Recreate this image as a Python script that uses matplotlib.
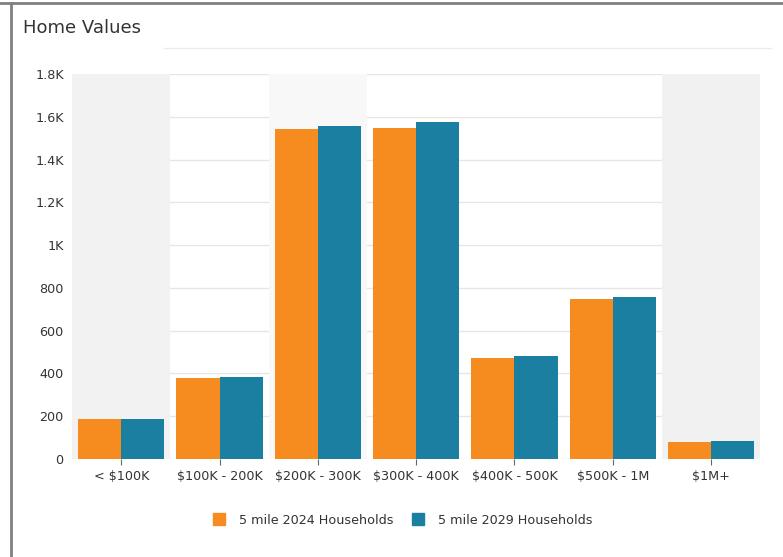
import numpy as np
import matplotlib.pyplot as plt
from matplotlib.ticker import FuncFormatter
from matplotlib.lines import Line2D

categories = ['< $100K', '$100K - 200K', '$200K - 300K', '$300K - 400K',
              '$400K - 500K', '$500K - 1M', '$1M+']
hh_2024 = [187, 381, 1543, 1549, 474, 748, 81]
hh_2029 = [188, 383, 1557, 1577, 483, 759, 82]
series_names = ['5 mile 2024 Households', '5 mile 2029 Households']
yticks = [0, 200, 400, 600, 800, 1000, 1200, 1400, 1600, 1800]

orange = '#f68c1f'
teal = '#1b7fa2'


def fmt_k(v, pos):
    if v >= 1000:
        s = '%g' % (v / 1000.0)
        return s + 'K'
    return '%d' % v


fig = plt.figure(figsize=(7.83, 5.57), dpi=100)
fig.patch.set_facecolor('white')
ax = fig.add_axes([0.092, 0.176, 0.879, 0.691])

x = np.arange(len(categories))
w = 0.44
ax.bar(x - w / 2, hh_2024, w, color=orange, zorder=3, label=series_names[0])
ax.bar(x + w / 2, hh_2029, w, color=teal, zorder=3, label=series_names[1])

# faint background bands
for i, c in [(0, '#f2f2f2'), (2, '#f8f8f8'), (6, '#f1f1f1')]:
    ax.axvspan(i - 0.5, i + 0.5, color=c, zorder=1, lw=0)

ax.set_xlim(-0.5, len(categories) - 0.5)
ax.set_ylim(0, 1800)
ax.set_yticks(yticks)
ax.yaxis.set_major_formatter(FuncFormatter(fmt_k))
ax.set_xticks(x)
ax.set_xticklabels(categories)
ax.grid(axis='y', color='#e6e6e6', lw=1, zorder=0)
ax.set_axisbelow(True)
for s in ax.spines.values():
    s.set_visible(False)
ax.tick_params(axis='y', length=0, pad=6, labelsize=9.2, labelcolor='#333333')
ax.tick_params(axis='x', length=4, color='#666666', pad=4, labelsize=9.2,
               labelcolor='#333333')

handles = [Line2D([], [], marker='s', ls='', color=orange, markersize=9),
           Line2D([], [], marker='s', ls='', color=teal, markersize=9)]
fig.legend(handles, series_names, loc='center', bbox_to_anchor=(0.51, 0.066),
           ncol=2, frameon=False, fontsize=9.2, handletextpad=0.6,
           columnspacing=0.9, labelcolor='#333333')

fig.text(0.029, 0.95, 'Home Values', fontsize=13, color='#333333', va='center')
# header rule and outer border
fig.add_artist(Line2D([0.21, 0.985], [0.914, 0.914], color='#ececec', lw=1))
fig.add_artist(Line2D([0.0, 1.0], [0.994, 0.994], color='#808080', lw=2))
fig.add_artist(Line2D([0.014, 0.014], [0.0, 0.994], color='#808080', lw=2))

plt.savefig('out.png', dpi=100)
